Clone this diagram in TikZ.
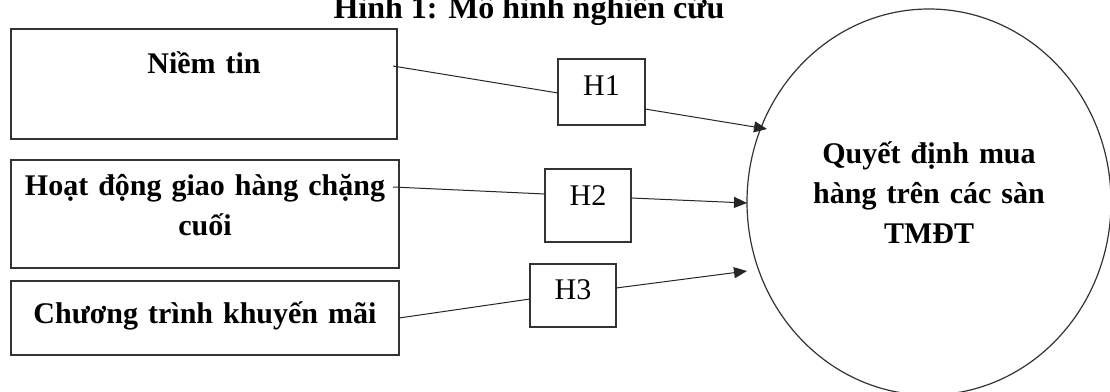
\documentclass[tikz,border=0pt]{standalone}
\usepackage{fontspec}
\setmainfont{Liberation Serif}
\usetikzlibrary{arrows.meta,calc,shapes.geometric}

\begin{document}
\begin{tikzpicture}[x=1pt,y=-1pt,
  every node/.style={inner sep=0pt, outer sep=0pt},
  factor/.style={draw=black!80, line width=1.3pt, anchor=north west, align=center,
                 font=\bfseries\fontsize{30}{40}\selectfont},
  hyp/.style={draw=black!80, line width=1.2pt, anchor=north west, align=center,
              font=\fontsize{30}{40}\selectfont},
  link/.style={draw=black!85, line width=1pt},
  arr/.style={link, -{Triangle[length=13pt,width=11pt]}},
]
\useasboundingbox (0,0) rectangle (1110,391);

% title
\node[font=\bfseries\fontsize{32}{38}\selectfont, anchor=base] (title) at (529,18)
  {Hình 1: Mô hình nghiên cứu};

% independent factors
\node[factor, text width=386pt, text height=44pt, text depth=66pt] (b1) at (11,29)
  {Niềm tin};
\node[factor, text width=388pt, text height=35pt, text depth=73pt] (b2) at (11,160)
  {Hoạt động giao hàng chặng\\cuối};
\node[factor, text width=388pt, text height=42pt, text depth=32pt] (b3) at (11,281)
  {Chương trình khuyến mãi};

% hypotheses
\node[hyp, text width=87pt, text height=36pt, text depth=30pt] (h1) at (558,59) {H1};
\node[hyp, text width=86pt, text height=36pt, text depth=37pt] (h2) at (545,169) {H2};
\node[hyp, text width=86pt, text height=35pt, text depth=28pt] (h3) at (530,264) {H3};

% dependent variable
\node[ellipse, draw=black!80, line width=1.2pt, minimum width=364pt, minimum height=386pt,
      text width=240pt, align=center, text height=30pt, text depth=108pt,
      font=\bfseries\fontsize{30}{40}\selectfont] (qd) at (929,202)
  {Quyết định mua\\hàng trên các sàn\\TMĐT};

% connector ends
\coordinate (s1) at (393,66);
\coordinate (s2) at (393,187);
\coordinate (t1) at (767,129);
\coordinate (t2) at (747,203);
\coordinate (t3) at (747,271);

% connectors
\draw[link] (s1) -- ($(h1.west)+(0,1)$);
\draw[arr] ($(h1.east)+(0,17)$) -- (t1);
\draw[link] (s2) -- ($(h2.west)+(0,-11.5)$);
\draw[arr] ($(h2.east)+(0,-7.5)$) -- (t2);
\draw[link] (b3.east) -- ($(h3.west)+(0,3.5)$);
\draw[arr] ($(h3.east)+(0,-7.5)$) -- (t3);
\end{tikzpicture}
\end{document}
